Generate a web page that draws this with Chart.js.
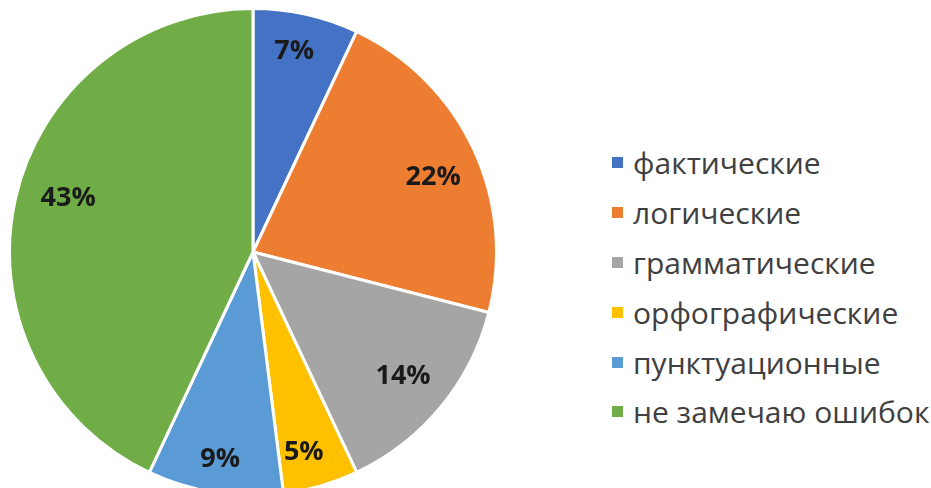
<!DOCTYPE html>
<html lang="ru">
<head>
  <meta charset="UTF-8">
  <title>Ошибки</title>
  <script src="https://cdn.jsdelivr.net/npm/chart.js"></script>
  <style>
    html, body { margin: 0; padding: 0; background: #fff; overflow: hidden; }
    body { width: 931px; height: 488px; position: relative; font-family: "Open Sans", "Noto Sans", sans-serif; }
    #pieBox { position: absolute; left: 8px; top: 7px; width: 490px; height: 490px; }
    #legend { position: absolute; left: 612px; top: 138px; margin: 0; padding: 0; list-style: none; }
    #legend li { height: 49.8px; display: flex; align-items: center; font-size: 30px; color: #404040; white-space: nowrap; }
    #legend span.box { display: inline-block; width: 11px; height: 11px; margin-right: 10px; }
  </style>
</head>
<body>

<div id="pieBox"><canvas id="pieChart"></canvas></div>
<ul id="legend"></ul>

<script>
// Данные
const categories = ['фактические', 'логические', 'грамматические', 'орфографические', 'пунктуационные', 'не замечаю ошибок'];
const percents = [7, 22, 14, 5, 9, 43];
const colors = ['#4472C4', '#ED7D31', '#A5A5A5', '#FFC000', '#5B9BD5', '#70AD47'];

// где ставить подписи: доля радиуса и небольшой сдвиг по углу (градусы)
const labelRadius = [0.84, 0.80, 0.80, 0.85, 0.86, 0.79];
const labelNudge = [-1, 2.8, 0, 2, 0, 3.5];

// подписи процентов внутри секторов
const sliceLabels = {
  id: 'sliceLabels',
  afterDatasetsDraw(chart) {
    const ctx = chart.ctx;
    const meta = chart.getDatasetMeta(0);
    ctx.save();
    ctx.font = 'bold 27px "Open Sans", sans-serif';
    ctx.fillStyle = '#1a1a1a';
    ctx.textAlign = 'center';
    ctx.textBaseline = 'middle';
    meta.data.forEach((arc, i) => {
      const mid = (arc.startAngle + arc.endAngle) / 2 + labelNudge[i] * Math.PI / 180;
      const r = arc.outerRadius * labelRadius[i];
      ctx.fillText(percents[i] + '%', arc.x + Math.cos(mid) * r, arc.y + Math.sin(mid) * r);
    });
    ctx.restore();
  }
};

new Chart(document.getElementById('pieChart'), {
  type: 'pie',
  data: {
    labels: categories,
    datasets: [{
      data: percents,
      backgroundColor: colors,
      borderColor: '#ffffff',
      borderWidth: 3
    }]
  },
  options: {
    responsive: true,
    maintainAspectRatio: false,
    animation: false,
    layout: { padding: 0 },
    plugins: {
      legend: { display: false },
      tooltip: { enabled: false }
    }
  },
  plugins: [sliceLabels]
});

// легенда
const legend = document.getElementById('legend');
categories.forEach((name, i) => {
  const li = document.createElement('li');
  li.innerHTML = '<span class="box" style="background:' + colors[i] + '"></span>' + name;
  legend.appendChild(li);
});
</script>

</body>
</html>
